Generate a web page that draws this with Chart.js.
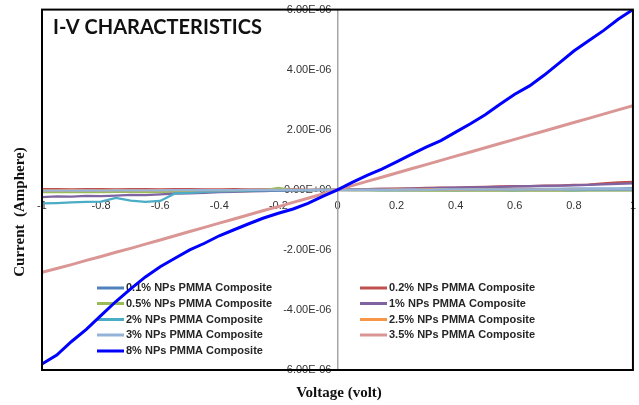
<!DOCTYPE html>
<html>
<head>
<meta charset="utf-8">
<script src="https://cdn.jsdelivr.net/npm/chart.js@4.4.1/dist/chart.umd.min.js"></script>
<style>
html, body { margin: 0; padding: 0; background: #fff; }
#wrap { width: 639px; height: 405px; position: relative; }
</style>
</head>
<body>
<div id="wrap"><canvas id="myChart"></canvas></div>
<script>
// voltage points (volt)
var volts = [-1, -0.95, -0.9, -0.85, -0.8, -0.75, -0.7, -0.65, -0.6, -0.55, -0.5,
    -0.45, -0.4, -0.35, -0.3, -0.25, -0.2, -0.15, -0.1, -0.05, 0,
    0.05, 0.1, 0.15, 0.2, 0.25, 0.3, 0.35, 0.4, 0.45, 0.5,
    0.55, 0.6, 0.65, 0.7, 0.75, 0.8, 0.85, 0.9, 0.95, 1];

// currents in micro-ampere
var np01 = [-0.06, -0.06, -0.05, -0.06, -0.05, -0.05, -0.05, -0.04, -0.04, -0.04, -0.03,
    -0.03, -0.03, -0.02, -0.02, -0.02, -0.01, -0.01, -0.01, 0, 0,
    0, 0.01, 0.01, 0.01, 0.01, 0.02, 0.02, 0.02, 0.02, 0.02,
    0.03, 0.03, 0.03, 0.03, 0.03, 0.04, 0.04, 0.04, 0.04, 0.05];
var np02 = [0.02, 0.02, 0.01, 0.02, 0.02, 0.01, 0.02, 0.02, 0.01, 0.02, 0.02,
    0.01, 0.01, 0.02, 0.01, 0.01, 0.01, 0.01, 0, 0, 0,
    0.01, 0.02, 0.03, 0.04, 0.05, 0.06, 0.07, 0.07, 0.09, 0.1,
    0.11, 0.12, 0.12, 0.14, 0.14, 0.16, 0.17, 0.21, 0.25, 0.26];
var np05 = [-0.08, -0.08, -0.07, -0.08, -0.08, -0.07, -0.07, -0.08, -0.07, -0.06, -0.06,
    -0.05, -0.05, -0.04, -0.04, -0.02, 0.06, -0.02, -0.01, 0, 0,
    -0.01, -0.01, -0.02, -0.02, -0.02, -0.03, -0.02, -0.03, -0.03, -0.03,
    -0.03, -0.02, -0.03, -0.03, -0.02, -0.03, -0.02, -0.02, -0.02, -0.02];
var np1 = [-0.24, -0.22, -0.23, -0.2, -0.21, -0.19, -0.17, -0.18, -0.15, -0.13, -0.12,
    -0.1, -0.08, -0.07, -0.05, -0.04, -0.03, -0.02, -0.01, 0, 0,
    0.01, 0.02, 0.03, 0.03, 0.04, 0.05, 0.06, 0.07, 0.08, 0.09,
    0.1, 0.11, 0.12, 0.13, 0.14, 0.15, 0.16, 0.18, 0.2, 0.21];
var np2 = [-0.45, -0.44, -0.42, -0.4, -0.39, -0.27, -0.36, -0.4, -0.37, -0.12, -0.1,
    -0.07, -0.05, -0.04, -0.03, -0.02, -0.02, -0.01, -0.01, 0, 0,
    0, 0, -0.01, 0, -0.01, 0, 0, -0.01, 0, 0,
    0, -0.01, 0, 0, 0, -0.01, 0, 0, 0, 0];
var np25 = [-0.02, -0.02, -0.01, -0.02, -0.02, -0.01, -0.01, -0.02, -0.01, -0.01, -0.01,
    -0.01, 0, -0.01, 0, 0, 0, 0, 0, 0, 0,
    0, 0, 0, 0.01, 0, 0.01, 0.01, 0, 0.01, 0.01,
    0.01, 0.01, 0.01, 0.02, 0.01, 0.02, 0.02, 0.02, 0.02, 0.02];
var np3 = [-0.03, -0.03, -0.03, -0.02, -0.03, -0.02, -0.02, -0.02, -0.02, -0.01, -0.01,
    -0.01, -0.01, -0.01, 0, 0, 0, 0, 0, 0, 0,
    0, 0, 0, 0, 0.01, 0, 0.01, 0.01, 0.01, 0.01,
    0.01, 0.01, 0.01, 0.01, 0.02, 0.01, 0.02, 0.02, 0.02, 0.02];
var np35 = [-2.75, -2.62, -2.49, -2.35, -2.22, -2.08, -1.95, -1.81, -1.67, -1.53, -1.39,
    -1.25, -1.11, -0.97, -0.83, -0.69, -0.56, -0.42, -0.28, -0.14, 0,
    0.14, 0.28, 0.42, 0.56, 0.7, 0.84, 0.98, 1.12, 1.26, 1.4,
    1.54, 1.68, 1.82, 1.96, 2.1, 2.24, 2.38, 2.52, 2.66, 2.8];
var np8 = [-5.8, -5.5, -5.05, -4.65, -4.18, -3.72, -3.3, -2.9, -2.56, -2.28, -2.0,
    -1.78, -1.53, -1.33, -1.13, -0.94, -0.78, -0.64, -0.45, -0.22, 0,
    0.25, 0.48, 0.69, 0.93, 1.18, 1.42, 1.64, 1.92, 2.2, 2.5,
    2.85, 3.18, 3.46, 3.82, 4.22, 4.62, 4.96, 5.3, 5.68, 6.0];

var seriesNames = ['0.1% NPs PMMA Composite', '0.2% NPs PMMA Composite', '0.5% NPs PMMA Composite',
    '1% NPs PMMA Composite', '2% NPs PMMA Composite', '2.5% NPs PMMA Composite',
    '3% NPs PMMA Composite', '3.5% NPs PMMA Composite', '8% NPs PMMA Composite'];
var seriesValues = [np01, np02, np05, np1, np2, np25, np3, np35, np8];
var seriesColors = ['#4f81bd', '#c0504d', '#9bbb59', '#8064a2', '#4bacc6', '#f79646', '#95b3d7', '#d99694', '#0000ff'];
var seriesWidths = [2.25, 2.25, 2.25, 2.25, 2.25, 2.25, 2.25, 3, 3];

function fmtExp(v) {
    if (Math.abs(v) < 1e-12) return '0.00E+00';
    var parts = v.toExponential(2).split('e');
    var e = parseInt(parts[1], 10);
    var d = Math.abs(e);
    return parts[0] + 'E' + (e < 0 ? '-' : '+') + (d < 10 ? '0' + d : d);
}

var datasets = [];
for (var i = 0; i < seriesNames.length; i++) {
    datasets.push({
        label: seriesNames[i],
        data: volts.map(function (v, k) { return { x: v, y: this[k] * 1e-6 }; }, seriesValues[i]),
        borderColor: seriesColors[i],
        backgroundColor: seriesColors[i],
        borderWidth: seriesWidths[i],
        pointRadius: 0,
        tension: 0,
        order: seriesNames.length - i
    });
}

var extrasPlugin = {
    id: 'extras',
    beforeDatasetsDraw: function (chart) {
        var ctx = chart.ctx;
        ctx.save();
        // legend, two columns inside the plot
        ctx.font = 'bold 11px "Liberation Sans"';
        ctx.textBaseline = 'middle';
        ctx.fillStyle = '#262626';
        var rows = [288, 303.5, 319.5, 335, 351];
        for (var i = 0; i < datasets.length; i++) {
            var col = i % 2, row = Math.floor(i / 2);
            var x0 = col === 0 ? 97 : 360;
            var y = rows[row];
            ctx.strokeStyle = datasets[i].borderColor;
            ctx.lineWidth = 3;
            ctx.beginPath();
            ctx.moveTo(x0, y);
            ctx.lineTo(x0 + 27, y);
            ctx.stroke();
            ctx.fillText(datasets[i].label, x0 + 29, y);
        }
        ctx.restore();
    },
    afterDraw: function (chart) {
        var ctx = chart.ctx, a = chart.chartArea;
        ctx.save();
        ctx.strokeStyle = '#000';
        ctx.lineWidth = 2;
        ctx.strokeRect(a.left, a.top, a.right - a.left, a.bottom - a.top);

        ctx.fillStyle = '#111';
        ctx.font = 'bold 20px Lato';
        ctx.textBaseline = 'middle';
        ctx.textAlign = 'left';
        ctx.fillText('I-V CHARACTERISTICS', 53, 28);

        ctx.font = 'bold 15px "Liberation Serif"';
        ctx.textAlign = 'center';
        ctx.fillText('Voltage (volt)', 339, 393);

        ctx.translate(20, 212);
        ctx.rotate(-Math.PI / 2);
        ctx.fillText('Current  (Amphere)', 0, 0);
        ctx.restore();
    }
};

function createChart() {
    var ctx = document.getElementById('myChart').getContext('2d');
    new Chart(ctx, {
        type: 'line',
        data: { datasets: datasets },
        plugins: [extrasPlugin],
        options: {
            responsive: true,
            maintainAspectRatio: false,
            animation: false,
            layout: { padding: { left: 42, right: 5, top: 7, bottom: 35 } },
            plugins: { legend: { display: false }, tooltip: { enabled: false } },
            scales: {
                x: {
                    type: 'linear',
                    position: 'center',
                    min: -1,
                    max: 1,
                    afterFit: function (s) { s.height = 0; },
                    grid: { color: 'rgba(0,0,0,0)', tickLength: 7 },
                    border: { color: '#a6a6a6', width: 1.5 },
                    ticks: {
                        stepSize: 0.2,
                        autoSkip: false,
                        maxRotation: 0,
                        padding: 3,
                        color: '#333',
                        font: { family: 'Liberation Sans', size: 11 },
                        callback: function (v) { return String(Math.round(v * 10) / 10); }
                    }
                },
                y: {
                    type: 'linear',
                    position: 'center',
                    min: -6e-6,
                    max: 6e-6,
                    afterFit: function (s) { s.width = 0; },
                    grid: { color: 'rgba(0,0,0,0)', tickLength: 3 },
                    border: { color: '#a6a6a6', width: 1.5 },
                    ticks: {
                        stepSize: 2e-6,
                        padding: 3,
                        color: '#333',
                        font: { family: 'Liberation Sans', size: 11 },
                        callback: fmtExp
                    }
                }
            }
        }
    });
}
createChart();
</script>
</body>
</html>
